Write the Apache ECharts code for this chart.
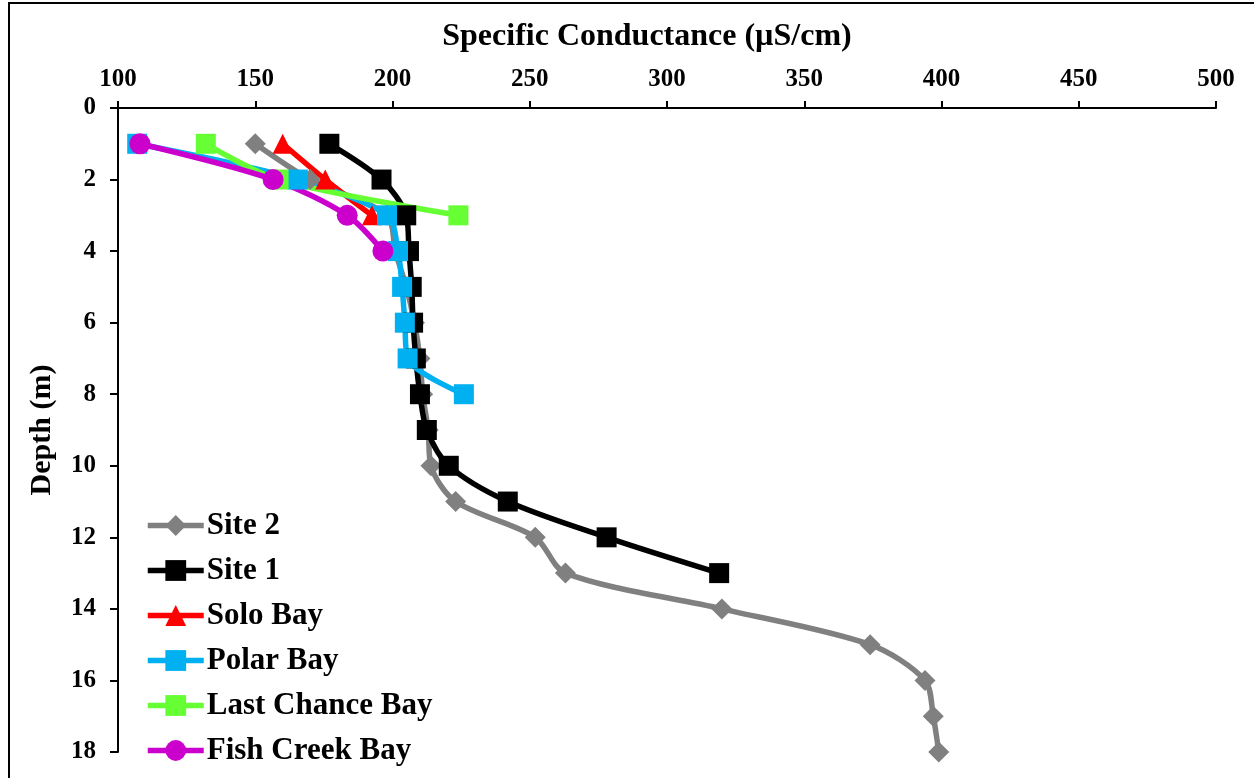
<!DOCTYPE html>
<html>
<head>
<meta charset="utf-8">
<script src="https://cdn.jsdelivr.net/npm/echarts@6/dist/echarts.min.js"></script>
<style>
  html, body { margin: 0; padding: 0; background: #fff; }
  #myChart { width: 1254px; height: 778px; }
</style>
</head>
<body>
<div id="myChart"></div>
<script>
// depth (m) for each sample
const depths = [1, 2, 3, 4, 5, 6, 7, 8, 9, 10, 11, 12, 13, 14, 15, 16, 17, 18]

// specific conductance (uS/cm) per site
const site2 = [150, 170, 198, 201, 205, 208, 210, 211, 213, 214, 223, 252, 263, 320, 374, 394, 397, 399]
const site1 = [177, 196, 205, 206, 207, 207.5, 208.5, 210, 212.5, 220.5, 242, 278, 319]
const soloBay = [160, 175.5, 192.5]
const polarBay = [107, 165.5, 198, 202, 203.5, 204.5, 205.5, 226]
const lastChanceBay = [132, 158.5, 224]
const fishCreekBay = [108, 156.5, 183.5, 196.5]

const seriesNames = ['Site 2', 'Site 1', 'Solo Bay', 'Polar Bay', 'Last Chance Bay', 'Fish Creek Bay']
const seriesValues = [site2, site1, soloBay, polarBay, lastChanceBay, fishCreekBay]
const colors = ['#808080', '#000000', '#FF0000', '#00B0F0', '#66FF33', '#CC00CC']
const symbols = ['diamond', 'rect', 'triangle', 'rect', 'rect', 'circle']
const symbolSizes = [21, 20, 20, 20, 20, 21]

const font = 'Liberation Serif'

const myChart = echarts.init(document.getElementById('myChart'))

const series = seriesNames.map((name, i) => ({
  name: name,
  type: 'line',
  smooth: 0.3,
  symbol: symbols[i],
  symbolSize: symbolSizes[i],
  showAllSymbol: true,
  itemStyle: { color: colors[i] },
  lineStyle: { color: colors[i], width: 5.5 },
  emphasis: { disabled: true },
  data: seriesValues[i].map((v, k) => [v, depths[k]])
}))

myChart.setOption({
  animation: false,
  color: colors,
  textStyle: { fontFamily: font },
  graphic: [
    {
      type: 'rect',
      shape: { x: 9, y: 3, width: 1300, height: 830 },
      style: { fill: 'none', stroke: '#000', lineWidth: 2 },
      silent: true
    }
  ],
  grid: {
    left: 118,
    right: 38,
    top: 108,
    bottom: 26
  },
  legend: {
    orient: 'vertical',
    left: 145,
    top: 510,
    height: 320,
    padding: 0,
    itemWidth: 56,
    itemHeight: 26,
    itemGap: 14,
    data: seriesNames,
    lineStyle: { width: 5.5 },
    textStyle: {
      fontFamily: font,
      fontWeight: 'bold',
      fontSize: 31,
      lineHeight: 30,
      color: '#000',
      padding: [0, 0, 0, -2]
    }
  },
  xAxis: {
    type: 'value',
    position: 'top',
    min: 100,
    max: 500,
    interval: 50,
    name: 'Specific Conductance (µS/cm)',
    nameLocation: 'middle',
    nameGap: 55,
    nameTextStyle: { fontFamily: font, fontWeight: 'bold', fontSize: 32, color: '#000', padding: [0, 40, 0, 0] },
    axisLine: { show: true, lineStyle: { color: '#000', width: 2 } },
    axisTick: { show: true, length: 7, lineStyle: { color: '#000', width: 2 } },
    axisLabel: { fontFamily: font, fontWeight: 'bold', fontSize: 25, color: '#000', margin: 16 },
    splitLine: { show: false }
  },
  yAxis: {
    type: 'value',
    inverse: true,
    min: 0,
    max: 18,
    interval: 2,
    name: 'Depth (m)',
    nameLocation: 'middle',
    nameGap: 61,
    nameRotate: 90,
    nameTextStyle: { fontFamily: font, fontWeight: 'bold', fontSize: 30, color: '#000' },
    axisLine: { show: true, lineStyle: { color: '#000', width: 2 } },
    axisTick: { show: true, length: 8, lineStyle: { color: '#000', width: 2 } },
    axisLabel: { fontFamily: font, fontWeight: 'bold', fontSize: 25, color: '#000', margin: 22 },
    splitLine: { show: false }
  },
  series: series
})
</script>
</body>
</html>
